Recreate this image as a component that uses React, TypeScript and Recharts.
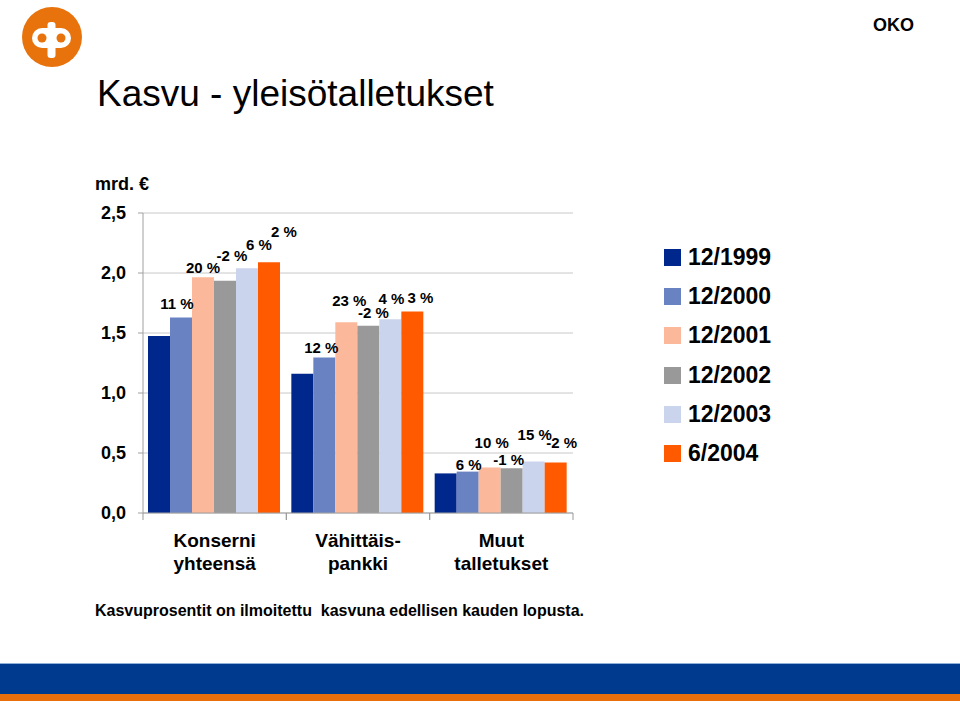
import React from "react";
import { BarChart, Bar, XAxis, YAxis, CartesianGrid, LabelList } from "recharts";

const categories = ["Konserni|yhteensä", "Vähittäis-|pankki", "Muut|talletukset"];
const periods = ["12/1999", "12/2000", "12/2001", "12/2002", "12/2003", "6/2004"];
const v1999 = [1.475, 1.16, 0.33];
const v2000 = [1.63, 1.295, 0.345];
const v2001 = [1.965, 1.59, 0.38];
const v2002 = [1.935, 1.56, 0.372];
const v2003 = [2.04, 1.615, 0.43];
const v2004 = [2.09, 1.68, 0.42];
const g2000 = ["11 %", "12 %", "6 %"];
const g2001 = ["20 %", "23 %", "10 %"];
const g2002 = ["-2 %", "-2 %", "-1 %"];
const g2003 = ["6 %", "4 %", "15 %"];
const g2004 = ["2 %", "3 %", "-2 %"];
const yTicks = [0, 0.5, 1, 1.5, 2, 2.5];

const values = [v1999, v2000, v2001, v2002, v2003, v2004];
const growth: (string[] | null)[] = [null, g2000, g2001, g2002, g2003, g2004];
const colors = ["#00288C", "#6882C2", "#FBB89A", "#999999", "#CAD4EC", "#FF5A00"];
// label nudges [dx, dy] relative to each bar's top centre (style only)
const labelNudge: number[][][] = [
  [[0, 0], [0, 0], [0, 0]],
  [[-4, -14], [-3, -10], [1, -7]],
  [[0, -10], [3, -22], [2, -25]],
  [[7, -25], [5, -13], [-3, -9]],
  [[12, -24], [1, -21], [1, -27]],
  [[15, -31], [8, -14], [6, -20]],
];

const data = categories.map((c, i) => {
  const row: any = { cat: c };
  periods.forEach((p, k) => {
    row["s" + k] = values[k][i];
    row["l" + k] = growth[k] ? (growth[k] as string[])[i] : "";
  });
  return row;
});

const FONT = "'Liberation Sans', Arial, Helvetica, sans-serif";

const CatTick = (props: any) => {
  const { x, y, payload } = props;
  const off = payload.offset || 0;
  const lines = String(payload.value).split("|");
  return (
    <g>
      <line x1={x - off} x2={x - off} y1={y} y2={y + 7} stroke="#999" />
      <line x1={x + off} x2={x + off} y1={y} y2={y + 7} stroke="#999" />
      {lines.map((t, i) => (
        <text key={i} x={x} y={y + 34 + i * 23} textAnchor="middle" fontFamily={FONT} fontWeight="bold" fontSize={19} fill="#000">
          {t}
        </text>
      ))}
    </g>
  );
};

const makeLabel = (k: number) => (p: any) => {
  const { x, y, width, value, index } = p;
  if (!value) return null;
  const n = labelNudge[k][index] || [0, -10];
  return (
    <text
      x={x + width / 2 + n[0]}
      y={y + n[1]}
      textAnchor="middle"
      dominantBaseline="central"
      fontFamily={FONT}
      fontWeight="bold"
      fontSize={15}
      fill="#000"
    >
      {value}
    </text>
  );
};

const Logo = () => (
  <svg width={110} height={80} style={{ position: "absolute", left: 0, top: 0 }}>
    <circle cx={52} cy={37} r={30} fill="#E8730C" />
    <rect x={32} y={28} width={39} height={20} rx={10} fill="#fff" />
    <rect x={47.5} y={22} width={8} height={36} rx={3} fill="#fff" />
    <circle cx={42} cy={38} r={4.5} fill="#E8730C" />
    <circle cx={61} cy={38} r={4.5} fill="#E8730C" />
  </svg>
);

export default function App() {
  return (
    <div style={{ position: "absolute", left: 0, top: 0, width: 960, height: 705, background: "#fff", fontFamily: FONT, overflow: "hidden" }}>
      <Logo />
      <div style={{ position: "absolute", left: 873, top: 15, fontSize: 18, fontWeight: "bold", color: "#000" }}>OKO</div>
      <div style={{ position: "absolute", left: 97, top: 73, fontSize: 37, color: "#000", whiteSpace: "nowrap" }}>Kasvu - yleisötalletukset</div>
      <div style={{ position: "absolute", left: 95, top: 174, fontSize: 18, fontWeight: "bold", color: "#000" }}>mrd. €</div>
      <BarChart
        width={960}
        height={705}
        data={data}
        margin={{ top: 213, left: 83, right: 387, bottom: 132 }}
        barCategoryGap={5}
        barGap={0}
        style={{ position: "absolute", left: 0, top: 0 }}
      >
        <CartesianGrid vertical={false} stroke="#C8C8C8" />
        <XAxis
          dataKey="cat"
          height={60}
          tickSize={0}
          tickMargin={0}
          tickLine={false}
          axisLine={{ stroke: "#A0A0A0" }}
          tick={<CatTick />}
          interval={0}
        />
        <YAxis
          domain={[0, 2.5]}
          ticks={yTicks}
          width={60}
          tickSize={5}
          tickMargin={12}
          tickLine={{ stroke: "#A0A0A0" }}
          axisLine={{ stroke: "#A0A0A0" }}
          tickFormatter={(v: number) => v.toFixed(1).replace(".", ",")}
          tick={{ fontFamily: FONT, fontWeight: "bold", fontSize: 18, fill: "#000" }}
        />
        <YAxis yAxisId="r" orientation="right" domain={[0, 2.5]} width={0} tick={false} tickLine={false} axisLine={{ stroke: "#C8C8C8" }} />
        {periods.map((p, k) => (
          <Bar key={p} dataKey={"s" + k} name={p} fill={colors[k]} isAnimationActive={false}>
            {growth[k] ? <LabelList dataKey={"l" + k} content={makeLabel(k)} /> : null}
          </Bar>
        ))}
      </BarChart>
      <div style={{ position: "absolute", left: 664, top: 238 }}>
        {periods.map((p, k) => (
          <div key={p} style={{ display: "flex", alignItems: "center", height: 39.2 }}>
            <div style={{ width: 17, height: 17, background: colors[k], marginRight: 7 }} />
            <span style={{ fontSize: 23, fontWeight: "bold", color: "#000" }}>{p}</span>
          </div>
        ))}
      </div>
      <div style={{ position: "absolute", left: 95, top: 602, fontSize: 16, fontWeight: "bold", color: "#000", whiteSpace: "pre" }}>
        Kasvuprosentit on ilmoitettu  kasvuna edellisen kauden lopusta.
      </div>
      <div style={{ position: "absolute", left: 0, top: 663, width: 960, height: 1, background: "#8FB0D8" }} />
      <div style={{ position: "absolute", left: 0, top: 664, width: 960, height: 30, background: "#003A8F" }} />
      <div style={{ position: "absolute", left: 0, top: 694, width: 960, height: 7, background: "#E96E0C" }} />
    </div>
  );
}
